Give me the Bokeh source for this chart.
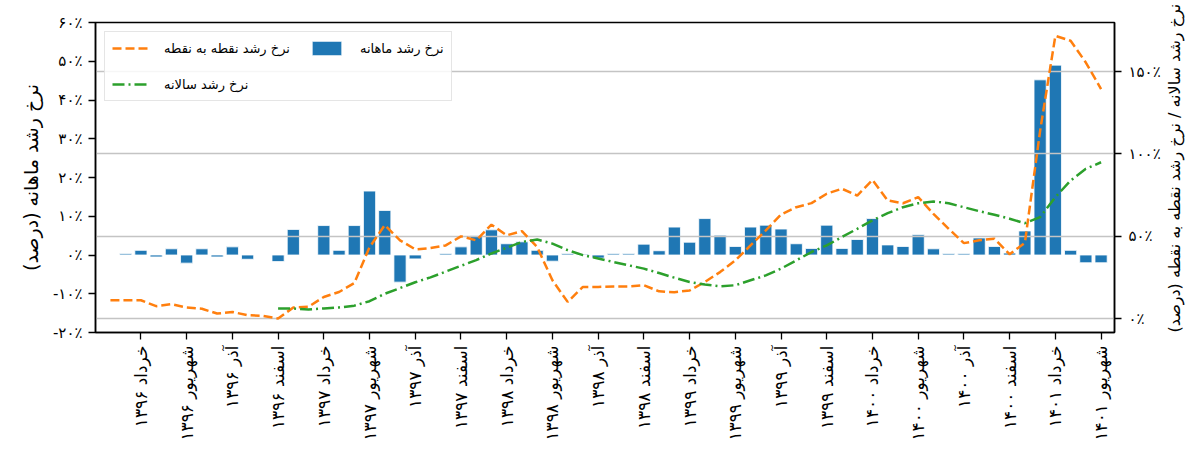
import math
import numpy as np
from bokeh.plotting import figure
from bokeh.models import (Range1d, LinearAxis, FixedTicker, Grid, Legend,
                          LegendItem, ColumnDataSource)
from bokeh.embed import file_html
from bokeh.resources import INLINE

FONT = "DejaVu Sans"

# ---------------- data ----------------
month_names = ["فروردین", "اردیبهشت", "خرداد", "تیر", "مرداد", "شهریور",
               "مهر", "آبان", "آذر", "دی", "بهمن", "اسفند"]
years = ["۱۳۹۶", "۱۳۹۷", "۱۳۹۸", "۱۳۹۹", "۱۴۰۰", "۱۴۰۱"]
months = [f"{m} {y}" for y in years for m in month_names][:66]

tick_labels = [
    "خرداد ۱۳۹۶", "شهریور ۱۳۹۶", "آذر ۱۳۹۶", "اسفند ۱۳۹۶",
    "خرداد ۱۳۹۷", "شهریور ۱۳۹۷", "آذر ۱۳۹۷", "اسفند ۱۳۹۷",
    "خرداد ۱۳۹۸", "شهریور ۱۳۹۸", "آذر ۱۳۹۸", "اسفند ۱۳۹۸",
    "خرداد ۱۳۹۹", "شهریور ۱۳۹۹", "آذر ۱۳۹۹", "اسفند ۱۳۹۹",
    "خرداد ۱۴۰۰", "شهریور ۱۴۰۰", "آذر ۱۴۰۰", "اسفند ۱۴۰۰",
    "خرداد ۱۴۰۱", "شهریور ۱۴۰۱",
]

# monthly growth rate (%), left axis
monthly = [None, 0.3, 1.2, -0.5, 1.6, -2.1, 1.6, -0.5, 2.1, -1.1,
           None, -1.7, 6.6, None, 7.6, 1.2, 7.6, 16.5, 11.5, -7.0,
           -1.0, None, 0.3, 2.1, 5.0, 6.5, 2.9, 3.4, 1.2, -1.6,
           0.3, 0.2, -0.8, 0.3, 0.3, 2.8, 1.1, 7.2, 3.3, 9.4,
           5.1, 2.2, 7.2, 7.7, 6.7, 2.9, 1.7, 7.7, 1.7, 4.0,
           9.4, 2.6, 2.2, 5.2, 1.6, 0.3, 0.3, 4.4, 2.2, 0.5,
           6.2, 45.2, 49.0, 1.2, -2.0, -2.0]

# point-to-point growth rate (%), right axis
point_to_point = [11.1, 11.1, 11.1, 7.5, 8.7, 6.7, 5.9, 3.0, 4.0, 2.0,
                  1.6, 0.0, 6.7, 7.1, 13.1, 16.1, 21.5, 43.3, 56.7, 47.5,
                  42.0, 42.8, 44.4, 49.9, 47.5, 57.0, 50.5, 53.1, 43.4, 23.2,
                  10.1, 19.2, 19.2, 19.5, 19.5, 20.2, 16.5, 16.0, 17.0, 22.2,
                  28.2, 35.3, 44.4, 53.5, 63.2, 67.6, 70.1, 75.8, 78.8, 74.7,
                  84.2, 71.7, 70.0, 73.7, 63.6, 54.5, 45.8, 47.5, 48.5, 39.0,
                  46.0, 114.0, 171.7, 168.7, 155.5, 139.4]

# annual growth rate (%), right axis
annual = [None, None, None, None, None, None, None, None, None, None,
          None, 6.1, 6.1, 5.5, 6.1, 6.7, 7.8, 10.5, 15.0, 18.5,
          22.0, 25.0, 28.5, 32.0, 35.5, 39.5, 43.0, 46.5, 48.0, 45.5,
          41.5, 38.5, 36.5, 34.3, 32.3, 30.3, 27.6, 24.8, 22.2, 20.6,
          19.6, 20.2, 23.2, 26.2, 30.3, 35.3, 40.4, 44.4, 49.5, 54.5,
          59.6, 64.0, 67.6, 70.0, 71.1, 70.0, 67.6, 65.2, 63.0, 60.6,
          57.9, 61.6, 73.7, 83.8, 90.9, 94.9]

left_ticks = [-20, -10, 0, 10, 20, 30, 40, 50, 60]
left_tick_labels = ["-۲۰٪", "-۱۰٪", "۰٪", "۱۰٪", "۲۰٪", "۳۰٪", "۴۰٪", "۵۰٪", "۶۰٪"]
right_ticks = [0, 50, 100, 150]
right_tick_labels = ["۰٪", "۵۰٪", "۱۰۰٪", "۱۵۰٪"]

legend_labels = ["نرخ رشد نقطه به نقطه", "نرخ رشد سالانه", "نرخ رشد ماهانه"]
left_title = "نرخ رشد ماهانه (درصد)"
right_title = "نرخ رشد سالانه / نرخ رشد نقطه به نقطه (درصد)"

# ---------------- figure ----------------
x = np.arange(len(months))
src = ColumnDataSource(dict(
    x=x,
    monthly=np.array(monthly, dtype=float),
    p2p=np.array(point_to_point, dtype=float),
    annual=np.array(annual, dtype=float),
))

p = figure(width=1196, height=472, output_backend="svg", toolbar_location=None,
           x_range=Range1d(-0.98, 65.88), y_range=Range1d(-20, 60),
           min_border_left=95, min_border_right=82,
           min_border_top=22, min_border_bottom=140)
p.extra_y_ranges = {"right": Range1d(-8.5, 179.8)}
p.xgrid.visible = False
p.ygrid.visible = False
p.outline_line_color = "black"
p.outline_line_width = 1.5
p.outline_line_alpha = 1.0
p.background_fill_color = "white"
p.border_fill_color = "white"

bars = p.vbar(x="x", top="monthly", width=0.8, source=src,
              fill_color="#1f77b4", line_color="white", line_width=0.8)

raxis = LinearAxis(y_range_name="right",
                   ticker=FixedTicker(ticks=right_ticks),
                   major_label_overrides=dict(zip(right_ticks, right_tick_labels)),
                   axis_label=right_title)
p.add_layout(raxis, "right")

grid = Grid(dimension=1, ticker=raxis.ticker, y_range_name="right",
            grid_line_color="#c4c4c4", grid_line_width=1.6, level="glyph")
p.renderers.append(grid)

l_p2p = p.line("x", "p2p", source=src, y_range_name="right",
               line_color="#ff7f0e", line_width=2.5, line_dash="9 4")
l_ann = p.line("x", "annual", source=src, y_range_name="right",
               line_color="#2ca02c", line_width=2.5, line_dash="12 4 2 4")

# axes
laxis = p.yaxis[0]
laxis.ticker = FixedTicker(ticks=left_ticks)
laxis.major_label_overrides = dict(zip(left_ticks, left_tick_labels))
laxis.axis_label = left_title

xaxis = p.xaxis[0]
tick_pos = [months.index(t) for t in tick_labels]
xaxis.ticker = FixedTicker(ticks=tick_pos)
xaxis.major_label_overrides = dict(zip(tick_pos, tick_labels))
xaxis.major_label_orientation = math.pi / 2

for ax in (laxis, raxis, xaxis):
    ax.axis_line_color = "black"
    ax.axis_line_width = 1.5
    ax.major_tick_line_color = "black"
    ax.major_tick_line_width = 1.3
    ax.major_tick_out = 7
    ax.major_tick_in = 0
    ax.minor_tick_out = 0
    ax.minor_tick_in = 0
    ax.major_label_text_font = FONT
    ax.major_label_text_font_size = "15px"
    ax.major_label_text_color = "black"
    ax.major_label_standoff = 6
    ax.axis_label_text_font = FONT
    ax.axis_label_text_font_size = "19px"
    ax.axis_label_text_font_style = "normal"
    ax.axis_label_text_color = "black"

xaxis.major_label_text_font_size = "17px"
laxis.axis_label_standoff = 8
raxis.major_label_standoff = 7
raxis.axis_label_standoff = 11
raxis.axis_label_text_font_size = "16px"
# make the right title read bottom-to-top, like the left one
props = LinearAxis.properties()
if "axis_label_orientation" in props:
    raxis.axis_label_orientation = math.pi / 2
if "axis_label_align" in props:
    raxis.axis_label_align = "start"

legend = Legend(items=[LegendItem(label=legend_labels[0], renderers=[l_p2p]),
                       LegendItem(label=legend_labels[1], renderers=[l_ann]),
                       LegendItem(label=legend_labels[2], renderers=[bars])],
                location="top_left", orientation="vertical", nrows=2)
legend.label_text_font = FONT
legend.label_text_font_size = "13px"
legend.label_text_color = "black"
legend.glyph_width = 37
legend.glyph_height = 18
legend.label_standoff = 15
legend.spacing = 18
legend.padding = 7
legend.margin = 9
legend.border_line_color = "#cccccc"
legend.border_line_width = 1.2
legend.background_fill_alpha = 0.85
p.add_layout(legend)

open("out.html", "w").write(file_html(p, INLINE))
